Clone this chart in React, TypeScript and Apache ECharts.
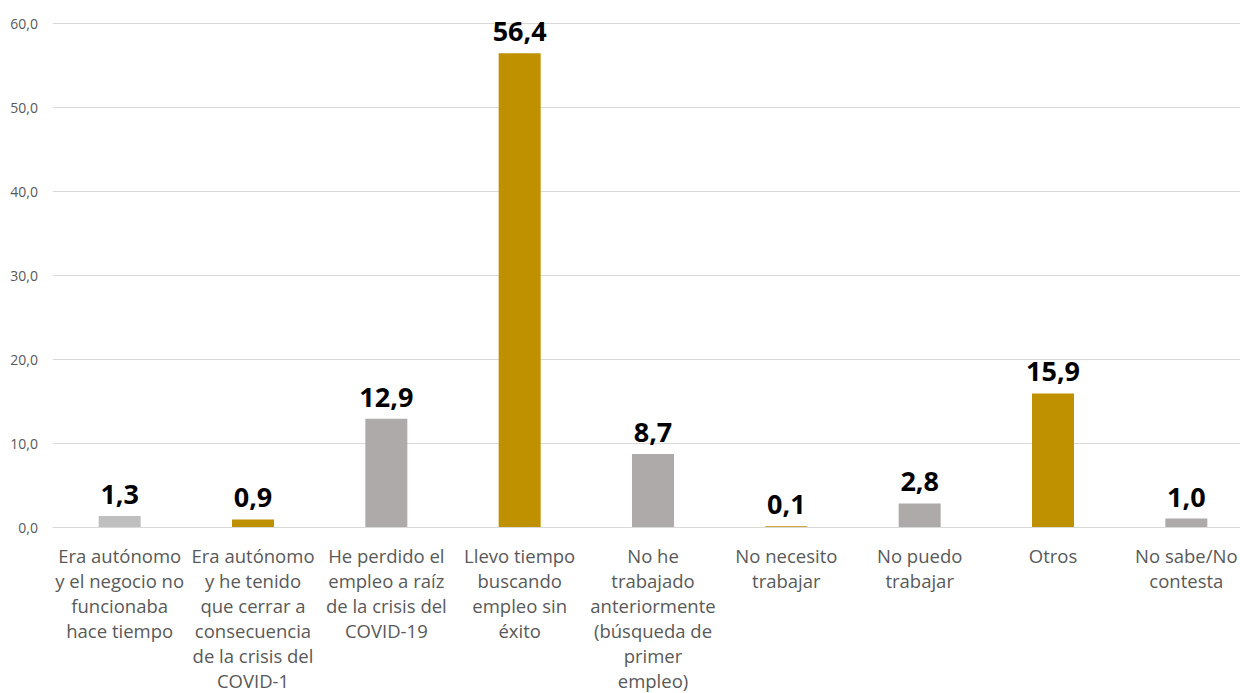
import React, { useEffect, useRef } from "react";
import * as echarts from "echarts";

const categories: string[] = [
  "Era autónomo\ny el negocio no\nfuncionaba\nhace tiempo",
  "Era autónomo\ny he tenido\nque cerrar a\nconsecuencia\nde la crisis del\nCOVID-1",
  "He perdido el\nempleo a raíz\nde la crisis del\nCOVID-19",
  "Llevo tiempo\nbuscando\nempleo sin\néxito",
  "No he\ntrabajado\nanteriormente\n(búsqueda de\nprimer\nempleo)",
  "No necesito\ntrabajar",
  "No puedo\ntrabajar",
  "Otros",
  "No sabe/No\ncontesta",
];
const values: number[] = [1.3, 0.9, 12.9, 56.4, 8.7, 0.1, 2.8, 15.9, 1.0];
const barColors: string[] = [
  "#BFBFBF", "#BF9000", "#AEAAAA", "#BF9000", "#AEAAAA",
  "#BF9000", "#AEAAAA", "#BF9000", "#AEAAAA",
];

const fmt = (v: number) => v.toFixed(1).replace(".", ",");

export default function App() {
  const ref = useRef<HTMLDivElement>(null);
  useEffect(() => {
    if (!ref.current) return;
    const chart = echarts.init(ref.current, undefined, { renderer: "svg" });
    chart.setOption({
      animation: false,
      backgroundColor: "#ffffff",
      grid: { left: 53, right: 0, top: 23, bottom: 164, containLabel: false },
      xAxis: {
        type: "category",
        data: categories,
        axisLine: { lineStyle: { color: "#D9D9D9", width: 1 } },
        axisTick: { show: false },
        axisLabel: {
          interval: 0,
          color: "#595959",
          fontFamily: "Open Sans",
          fontSize: 18.5,
          lineHeight: 25,
          margin: 16,
        },
      },
      yAxis: {
        type: "value",
        min: 0,
        max: 60,
        interval: 10,
        axisLine: { show: false },
        axisTick: { show: false },
        splitLine: { lineStyle: { color: "#D9D9D9", width: 1 } },
        axisLabel: {
          color: "#595959",
          fontFamily: "Open Sans",
          fontSize: 14,
          margin: 15,
          formatter: (v: number) => fmt(v),
        },
      },
      series: [
        {
          type: "bar",
          barWidth: 42,
          data: values.map((v, i) => ({ value: v, itemStyle: { color: barColors[i] } })),
          label: {
            show: true,
            position: "top",
            distance: 9,
            color: "#000000",
            fontFamily: "Open Sans",
            fontWeight: "bold",
            fontSize: 27,
            formatter: (p: any) => fmt(p.value),
          },
        },
      ],
    });
    return () => chart.dispose();
  }, []);
  return (
    <div
      style={{
        position: "fixed",
        left: 0,
        top: 0,
        width: 1240,
        height: 693,
        overflow: "hidden",
        background: "#ffffff",
      }}
    >
      <div ref={ref} style={{ width: 1253, height: 693 }} />
    </div>
  );
}
